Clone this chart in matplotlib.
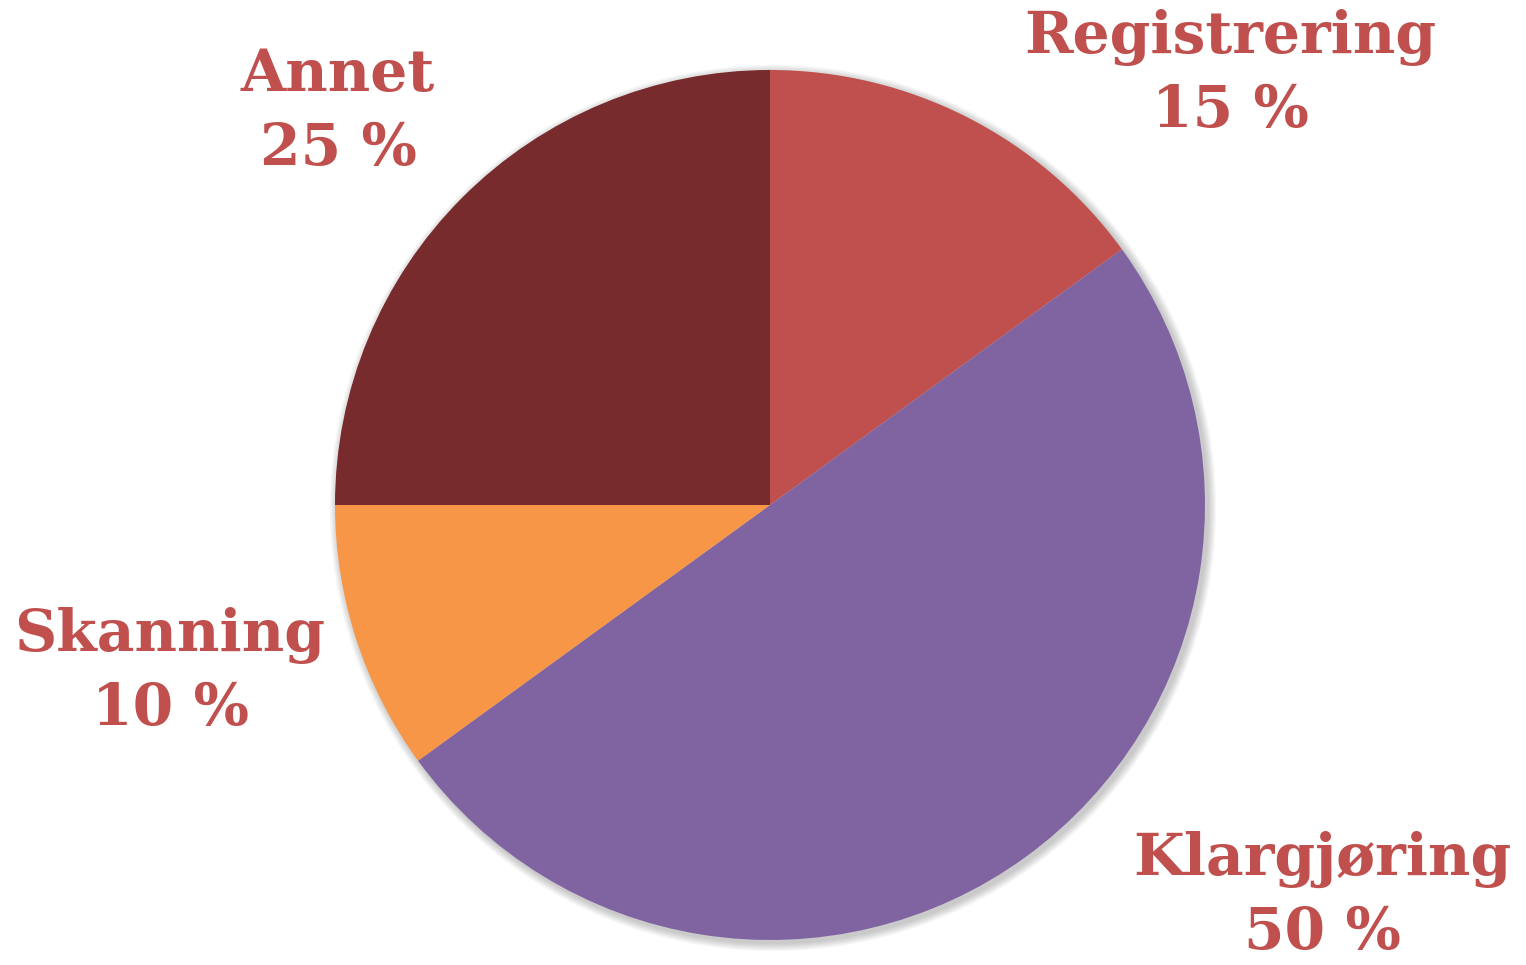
import matplotlib
matplotlib.use("Agg")
import matplotlib.pyplot as plt
from matplotlib.patches import Circle

# data
labels = ["Registrering", "Klargjøring", "Skanning", "Annet"]
shares = [15, 50, 10, 25]
colors = ["#C0504D", "#8064A2", "#F79646", "#772B2C"]

# label anchor points (pixel coords, top-left origin)
label_pos = {
    "Registrering": (1230, 74),
    "Klargjøring": (1322, 896),
    "Skanning": (170, 672),
    "Annet": (338, 112),
}

W, H = 1526, 965
fig = plt.figure(figsize=(W / 100, H / 100), dpi=100)
ax = fig.add_axes([0, 0, 1, 1])

cx, cy, r = 770, H - 505, 435

# soft shadow around the pie
for k in range(7):
    ax.add_patch(Circle((cx + 3, cy - 3), r + 1 + k * 1.2, color="#000000",
                        alpha=0.03, lw=0, zorder=0))

ax.pie(shares, colors=colors, startangle=90, counterclock=False,
       center=(cx, cy), radius=r, frame=True,
       wedgeprops=dict(linewidth=0, zorder=2))
ax.set_xlim(0, W)
ax.set_ylim(0, H)
ax.set_aspect("equal")
ax.axis("off")

for name, val in zip(labels, shares):
    x, y = label_pos[name]
    ax.text(x, H - y, f"{name}\n{val} %", ha="center", va="center",
            fontsize=42, fontweight="heavy", family="DejaVu Serif",
            color="#C0504D", linespacing=1.4, zorder=5)

fig.savefig("out.png", dpi=100)
